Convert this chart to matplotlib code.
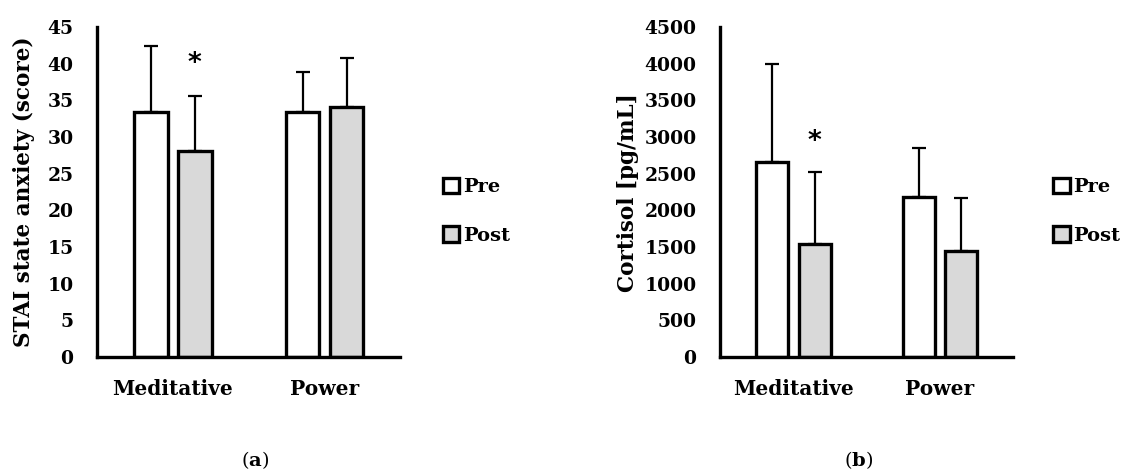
import numpy as np
import matplotlib.pyplot as plt
from matplotlib.patches import Patch

plt.rcParams['font.family'] = 'DejaVu Serif'
plt.rcParams['font.weight'] = 'bold'
plt.rcParams['axes.labelweight'] = 'bold'
plt.rcParams['mathtext.fontset'] = 'dejavuserif'

groups = ['Meditative', 'Power']

# panel a: STAI state anxiety
stai_pre = [33.4, 33.4]
stai_post = [28.1, 34.1]
stai_pre_sd = [9.0, 5.5]
stai_post_sd = [7.5, 6.7]

# panel b: cortisol
cort_pre = [2660, 2180]
cort_post = [1540, 1445]
cort_pre_sd = [1340, 670]
cort_post_sd = [983, 723]

fig = plt.figure(figsize=(11.24, 4.76), dpi=100)
ax_a = fig.add_axes([0.0863, 0.25, 0.270, 0.693])
ax_b = fig.add_axes([0.6406, 0.25, 0.261, 0.693])

x = np.arange(len(groups))
w = 0.22
off = 0.145


def draw_panel(ax, pre, post, pre_sd, post_sd, ymax, step, ylabel, lpad, star_y):
    ax.errorbar(x - off, pre, yerr=[np.zeros(2), pre_sd], fmt='none',
                ecolor='black', elinewidth=1.6, capsize=4.7, capthick=1.6, zorder=1)
    ax.errorbar(x + off, post, yerr=[np.zeros(2), post_sd], fmt='none',
                ecolor='black', elinewidth=1.6, capsize=4.7, capthick=1.6, zorder=1)
    ax.bar(x - off, pre, w, color='white', edgecolor='black', linewidth=2.4, zorder=2)
    ax.bar(x + off, post, w, color='#d9d9d9', edgecolor='black', linewidth=2.4, zorder=2)
    ax.set_xlim(-0.5, 1.5)
    ax.set_ylim(0, ymax)
    ax.set_yticks(np.arange(0, ymax + 1, step))
    ax.set_xticks(x)
    ax.set_xticklabels(groups)
    ax.tick_params(axis='both', length=0)
    ax.tick_params(axis='y', pad=17, labelsize=13.5)
    ax.tick_params(axis='x', pad=16, labelsize=14.5)
    for s in ['top', 'right']:
        ax.spines[s].set_visible(False)
    for s in ['left', 'bottom']:
        ax.spines[s].set_linewidth(2.4)
    ax.set_ylabel(ylabel, fontsize=15.5, labelpad=lpad)
    ax.text(x[0] + off, star_y, '*', ha='center', va='center', fontsize=19,
            family='DejaVu Sans', fontweight='bold')


draw_panel(ax_a, stai_pre, stai_post, stai_pre_sd, stai_post_sd, 45, 5,
           'STAI state anxiety (score)', 9, 40.0)
draw_panel(ax_b, cort_pre, cort_post, cort_pre_sd, cort_post_sd, 4500, 500,
           'Cortisol [pg/mL]', 4, 2930)

handles = [Patch(facecolor='white', edgecolor='black', linewidth=2.4, label='Pre'),
           Patch(facecolor='#d9d9d9', edgecolor='black', linewidth=2.4, label='Post')]
for xa in [0.387, 0.93]:
    fig.legend(handles=handles, loc='center left', bbox_to_anchor=(xa, 0.556),
               frameon=False, fontsize=14, handlelength=0.85, handleheight=0.85,
               handletextpad=0.2, labelspacing=1.55, borderaxespad=0)

fig.text(0.227, 0.034, r'($\mathbf{a}$)', ha='center', va='center', fontsize=14,
         fontweight='normal')
fig.text(0.764, 0.034, r'($\mathbf{b}$)', ha='center', va='center', fontsize=14,
         fontweight='normal')

fig.savefig('out.png', dpi=100)
